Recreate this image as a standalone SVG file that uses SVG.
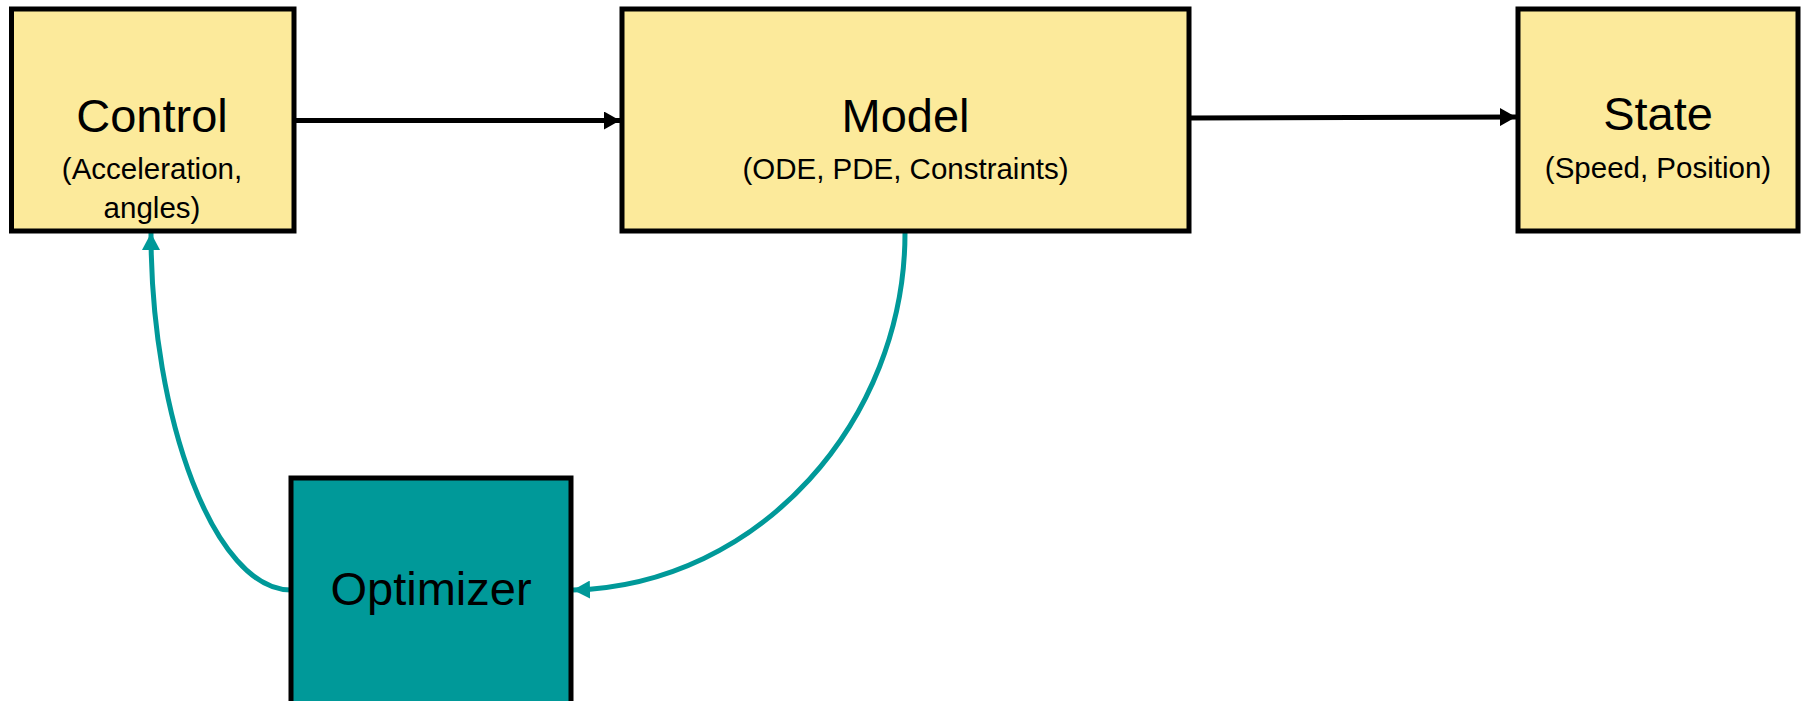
<svg xmlns="http://www.w3.org/2000/svg" width="1806" height="701" viewBox="0 0 1806 701">
<style>
.box{fill:#FCEA9B;stroke:#000;stroke-width:5}
.opt{fill:#009999;stroke:#000;stroke-width:5}
.t{font-family:"Liberation Sans",Arial,sans-serif;fill:#000;text-anchor:middle}
.big{font-size:47px}
.sm{font-size:29.5px}
.blk{stroke:#000;stroke-width:5;fill:none}
.teal{stroke:#009999;stroke-width:5;fill:none}
</style>
<defs>
<marker id="ab" viewBox="0 0 16 18" refX="16" refY="9" markerWidth="16" markerHeight="18" orient="auto" markerUnits="userSpaceOnUse"><path d="M0,0L16,9L0,18z" fill="#000"/></marker>
<marker id="at" viewBox="0 0 17 18" refX="17" refY="9" markerWidth="17" markerHeight="18" orient="auto" markerUnits="userSpaceOnUse"><path d="M0,0L17,9L0,18z" fill="#009999"/></marker>
</defs>
<g id="connectors">
<path class="blk" d="M294,120.5 L620,120.5" marker-end="url(#ab)"/>
<path class="blk" d="M1189,118 L1516,117" marker-end="url(#ab)"/>
<path class="teal" d="M905,233 C905,420 760,585 573,590" marker-end="url(#at)"/>
<path class="teal" d="M291,590 C215,590 151,420 151,233" marker-end="url(#at)"/>
</g>
<g id="control">
<rect class="box" x="11.5" y="9" width="282.5" height="222"/>
<text class="t big" x="152" y="132">Control</text>
<text class="t sm" x="152" y="179">(Acceleration,</text>
<text class="t sm" x="152" y="218">angles)</text>
</g>
<g id="model">
<rect class="box" x="622" y="9" width="567" height="222"/>
<text class="t big" x="905.5" y="132">Model</text>
<text class="t sm" x="905.5" y="179">(ODE, PDE, Constraints)</text>
</g>
<g id="state">
<rect class="box" x="1518" y="9" width="280" height="222"/>
<text class="t big" x="1658" y="130">State</text>
<text class="t sm" x="1658" y="178">(Speed, Position)</text>
</g>
<g id="optimizer">
<rect class="opt" x="291" y="478" width="280" height="240"/>
<text class="t big" x="431" y="605">Optimizer</text>
</g>
</svg>
